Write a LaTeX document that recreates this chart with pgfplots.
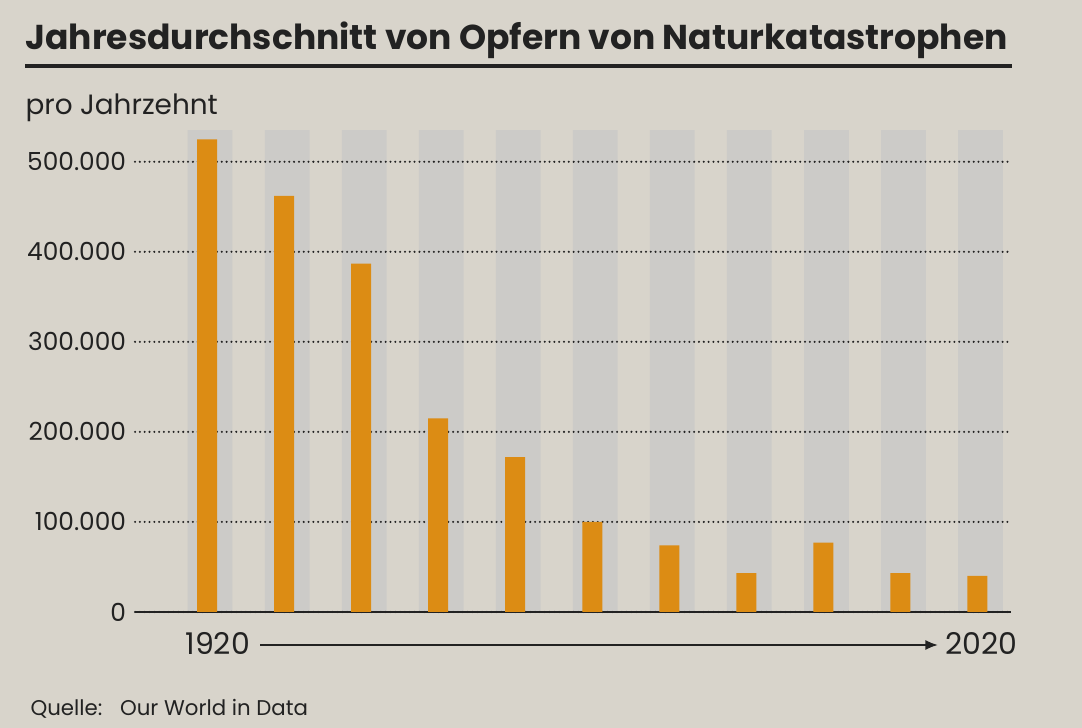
\documentclass[border=0pt]{standalone}
\usepackage{fontspec}
\setmainfont{Poppins}
\usepackage{pgfplots}
\pgfplotsset{compat=1.18}
\usetikzlibrary{arrows.meta}
\definecolor{paper}{HTML}{D8D4CB}
\definecolor{band}{HTML}{CCCBC8}
\definecolor{bar}{HTML}{DC8C14}
\definecolor{ink}{HTML}{222222}

% common frame for both axes (grey bands below, grid + bars above)
% 1 px of the 1082x728 reference = 0.01386cm
\pgfplotsset{frame/.style={
  at={(1.871cm,1.608cm)}, anchor=south west,
  scale only axis, width=12.13cm, height=6.736cm,
  xmin=-0.935, xmax=10.43, ymin=0, ymax=540000,
  xtick=\empty,
  clip=false,
}}

\begin{document}
\begin{tikzpicture}[x=0.01386cm,y=0.01386cm]
\fill[paper] (0,0) rectangle (1082,728);

\node[anchor=base west, inner sep=0, text=ink,
  font=\fontsize{13.6}{15}\selectfont\bfseries] at (25,678)
  {Jahresdurchschnitt von Opfern von Naturkatastrophen};
\draw[ink, line width=1.3pt] (25,662) -- (1012,662);
\node[anchor=base west, inner sep=0, text=ink,
  font=\fontsize{11}{13}\selectfont] at (25,613) {pro Jahrzehnt};

% grey background columns
\begin{axis}[frame, hide axis]
\addplot[ybar, bar width=0.62cm, bar shift=0.042cm, fill=band, draw=none]
  coordinates {(0,535000) (1,535000) (2,535000) (3,535000) (4,535000) (5,535000)
               (6,535000) (7,535000) (8,535000) (9,535000) (10,535000)};
\end{axis}

% victims per year, decade average 1920s ... 2020s
\begin{axis}[frame,
  axis x line*=bottom, axis y line*=left,
  x axis line style={ink, line width=1pt, -},
  y axis line style={draw=none},
  ytick={0,100000,200000,300000,400000,500000},
  yticklabels={0,100.000,200.000,300.000,400.000,500.000},
  major tick length=0pt,
  scaled y ticks=false,
  yticklabel style={font=\fontsize{9.8}{12}\selectfont, text=ink},
  ymajorgrids,
  grid style={ink, line width=0.9pt, line cap=round, dash pattern=on 0pt off 1.9pt},
]
\addplot[ybar, bar width=0.277cm, bar shift=0pt, fill=bar, draw=none]
  coordinates {(0,525000) (1,462000) (2,387000) (3,215000) (4,172000) (5,100000)
               (6,74000) (7,43000) (8,77000) (9,43000) (10,40000)};
\end{axis}

\node[anchor=base west, inner sep=0, text=ink,
  font=\fontsize{11.8}{13}\selectfont] at (185,73) {1920};
\draw[ink, line width=0.8pt, -{Latex[length=5pt,width=4pt]}] (260,83) -- (938,83);
\node[anchor=base west, inner sep=0, text=ink,
  font=\fontsize{11.8}{13}\selectfont] at (945,73) {2020};
\node[anchor=base west, inner sep=0, text=ink,
  font=\fontsize{8.4}{10}\selectfont] at (30,12) {Quelle:\hspace{4pt} Our World in Data};
\end{tikzpicture}
\end{document}
